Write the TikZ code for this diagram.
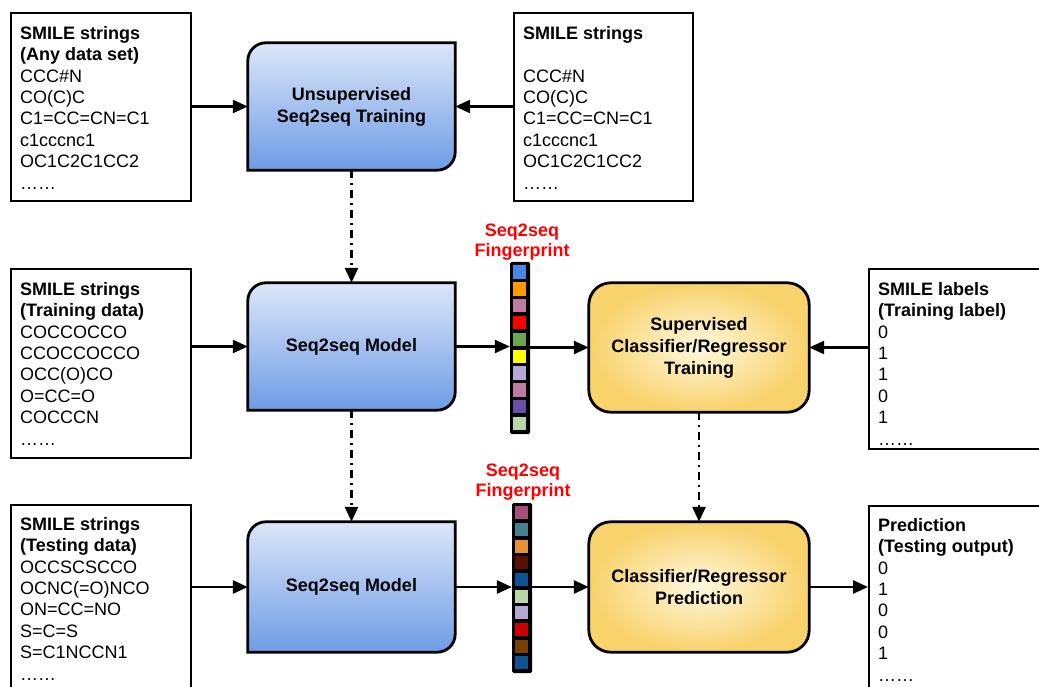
\documentclass[tikz,border=0pt]{standalone}
\usepackage{fontspec}
\setmainfont{Liberation Sans}
\usetikzlibrary{arrows.meta,backgrounds,calc}

\definecolor{stTop}{HTML}{DCE6F8}
\definecolor{stBot}{HTML}{6E9CE6}
\definecolor{clIn}{HTML}{FFF8DE}
\definecolor{clOut}{HTML}{F8D26A}
% fingerprint cell colours
\definecolor{fa}{HTML}{4A86E8}
\definecolor{fb}{HTML}{FF9900}
\definecolor{fc}{HTML}{C27BA0}
\definecolor{fd}{HTML}{FF0000}
\definecolor{fe}{HTML}{6AA84F}
\definecolor{ff}{HTML}{FFFF00}
\definecolor{fg}{HTML}{B4A7D6}
\definecolor{fh}{HTML}{674EA7}
\definecolor{fi}{HTML}{B6D7A8}
\definecolor{ga}{HTML}{A64D79}
\definecolor{gb}{HTML}{45818E}
\definecolor{gc}{HTML}{E69138}
\definecolor{gd}{HTML}{5B0F00}
\definecolor{ge}{HTML}{0B5394}
\definecolor{gf}{HTML}{CC0000}
\definecolor{gg}{HTML}{783F04}

% box with rounded top-left and bottom-right corners around a node
\newcommand\leafshape[2]{%
  \path[#2] (#1.north) [rounded corners=18pt] -- (#1.north west) -- (#1.west)
    [sharp corners] -- (#1.south west) -- (#1.south)
    [rounded corners=18pt] -- (#1.south east) -- (#1.east)
    [sharp corners] -- (#1.north east) -- cycle;}

\begin{document}
\begin{tikzpicture}[x=1pt,y=-1pt,
  txt/.style={font=\fontsize{18}{21.4}\selectfont, align=left, inner sep=0pt, anchor=north west},
  frame/.style={draw, line width=1.6pt, fill=white, inner sep=0pt, anchor=north west},
  stage/.style={font=\fontsize{18}{22}\selectfont\bfseries, align=center, inner sep=0pt},
  leaf/.style={draw, line width=2.8pt, top color=stTop, bottom color=stBot},
  pill/.style={draw, line width=2.8pt, rounded corners=22pt, inner color=clIn, outer color=clOut},
  flow/.style={line width=2.6pt, -{Triangle[length=15pt,width=13pt]}},
  link/.style={flow, dash pattern=on 8pt off 5pt on 2pt off 5pt},
  fplabel/.style={font=\fontsize{18}{20}\selectfont\bfseries, text=red, align=center, inner sep=0pt, anchor=south},
  bar/.style={fill=black, rounded corners=1.5pt, inner sep=0pt, minimum width=20pt},
]
\useasboundingbox (0,0) rectangle (1039,687);

% ---------- text boxes ----------
\node[frame, minimum width=180pt, minimum height=188pt] (in1) at (10,12) {};
\node[txt] at ($(in1.north west)+(10,14)$) {\textbf{SMILE strings}\\\textbf{(Any data set)}\\CCC\#N\\CO(C)C\\C1=CC=CN=C1\\c1cccnc1\\OC1C2C1CC2\\……};

\node[frame, minimum width=179pt, minimum height=188pt] (in2) at (513,12) {};
\node[txt] at ($(in2.north west)+(10,14)$) {\textbf{SMILE strings}\\[21.4pt]CCC\#N\\CO(C)C\\C1=CC=CN=C1\\c1cccnc1\\OC1C2C1CC2\\……};

\node[frame, minimum width=180pt, minimum height=189pt] (tr) at (10,268) {};
\node[txt] at ($(tr.north west)+(10,14)$) {\textbf{SMILE strings}\\\textbf{(Training data)}\\COCCOCCO\\CCOCCOCCO\\OCC(O)CO\\O=CC=O\\COCCCN\\……};

\node[frame, minimum width=200pt, minimum height=180pt] (lab) at (868,268) {};
\node[txt] at ($(lab.north west)+(10,14)$) {\textbf{SMILE labels}\\\textbf{(Training label)}\\0\\1\\1\\0\\1\\……};

\node[frame, minimum width=180pt, minimum height=200pt] (te) at (10,504) {};
\node[txt] at ($(te.north west)+(10,13)$) {\textbf{SMILE strings}\\\textbf{(Testing data)}\\OCCSCSCCO\\OCNC(=O)NCO\\ON=CC=NO\\S=C=S\\S=C1NCCN1\\……};

\node[frame, minimum width=200pt, minimum height=200pt] (out) at (868,505) {};
\node[txt] at ($(out.north west)+(10,13)$) {\textbf{Prediction}\\\textbf{(Testing output)}\\0\\1\\0\\0\\1\\……};

% ---------- processing stages ----------
\node[stage, minimum width=207pt, minimum height=127pt] (u)  at (351.5,106.5) {Unsupervised\\Seq2seq Training};
\node[stage, minimum width=207pt, minimum height=127pt] (m1) at (351.5,346.5) {Seq2seq Model};
\node[stage, minimum width=207pt, minimum height=130pt] (m2) at (351.5,587) {Seq2seq Model};
\node[stage, minimum width=220pt, minimum height=129pt] (sup)  at (699,347.5) {Supervised\\Classifier/Regressor\\Training};
\node[stage, minimum width=220pt, minimum height=130pt] (pred) at (699,587) {Classifier/Regressor\\Prediction};

\begin{scope}[on background layer]
  \leafshape{u}{leaf}
  \leafshape{m1}{leaf}
  \leafshape{m2}{leaf}
  \path[pill] (sup.north west) rectangle (sup.south east);
  \path[pill] (pred.north west) rectangle (pred.south east);
\end{scope}

% ---------- fingerprints ----------
\node[bar, minimum height=172pt] (fp1) at (520,348) {};
\foreach \c [count=\i from 0] in {fa,fb,fc,fd,fe,ff,fg,fc,fh,fi}
  \fill[\c] ($(fp1.north west)+(3.5,3.5+\i*16.85)$) rectangle ++(13,13.35);
\node[fplabel] (fl1) at ($(fp1.north)+(2,-1.5)$) {Seq2seq\\Fingerprint};

\node[bar, minimum height=170pt] (fp2) at (522,588) {};
\foreach \c [count=\i from 0] in {ga,gb,gc,gd,ge,fi,fg,gf,gg,ge}
  \fill[\c] ($(fp2.north west)+(3.5,3.5+\i*16.65)$) rectangle ++(13,13.15);
\node[fplabel] (fl2) at ($(fp2.north)+(1,-2)$) {Seq2seq\\Fingerprint};

% ---------- connectors ----------
\draw[flow] (in1.east |- u.west) -- (u.west);
\draw[flow] (in2.west |- u.east) -- (u.east);

\draw[flow] (tr.east |- m1.west) -- (m1.west);
\draw[flow] (m1.east) -- (fp1.west |- m1.east);
\draw[flow] (fp1.east |- sup.west) -- (sup.west);
\draw[flow] (lab.west |- sup.east) -- (sup.east);

\draw[flow] (te.east |- m2.west) -- (m2.west);
\draw[flow] (m2.east) -- (fp2.west |- m2.east);
\draw[flow] (fp2.east |- pred.west) -- (pred.west);
\draw[flow] (pred.east) -- (out.west |- pred.east);

\draw[link] (u.south) -- (m1.north);
\draw[link] (m1.south) -- (m2.north);
\draw[link] (sup.south) -- (pred.north);
\end{tikzpicture}
\end{document}
